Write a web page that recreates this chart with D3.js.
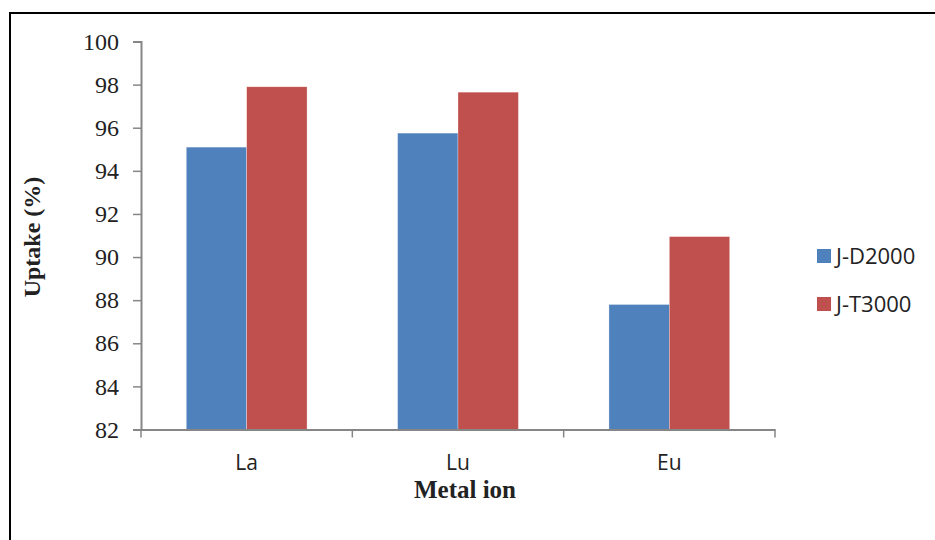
<!DOCTYPE html>
<html><head><meta charset="utf-8">
<script src="https://cdn.jsdelivr.net/npm/d3@7"></script>
<style>body{margin:0;background:#fff}</style>
</head><body>
<svg id="c" width="935" height="540"></svg>
<script>
const categories = ["La", "Lu", "Eu"];
const seriesNames = ["J-D2000", "J-T3000"];
const jd2000 = [95.1, 95.75, 87.8];
const jt3000 = [97.9, 97.65, 90.95];
const yTicks = [82, 84, 86, 88, 90, 92, 94, 96, 98, 100];
const colors = ["#4F81BD", "#C0504D"];

(function(){
const svg = d3.select("#c");
svg.append("rect").attr("x", 10).attr("y", 13).attr("width", 940).attr("height", 540)
  .attr("fill", "none").attr("stroke", "#000").attr("stroke-width", 2);

const pL = 141, pR = 775, pT = 41.5, pB = 429.5;
const x = d3.scaleBand().domain(categories).range([pL, pR]).paddingInner(0).paddingOuter(0);
const y = d3.scaleLinear().domain([82, 100]).range([pB, pT]);
const xs = d3.scaleBand().domain(seriesNames).range([0, x.bandwidth()]).paddingInner(0).paddingOuter(0.75);

const data = [jd2000, jt3000];
const g = svg.append("g");
categories.forEach((c, i) => {
  seriesNames.forEach((s, j) => {
    g.append("rect")
      .attr("x", x(c) + xs(s)).attr("width", xs.bandwidth())
      .attr("y", y(data[j][i])).attr("height", y(82) - y(data[j][i]))
      .attr("fill", colors[j]).attr("stroke", "rgba(255,255,255,0.5)").attr("stroke-width", 0.6);
  });
});

const axisColor = "#868686";
const yAxis = svg.append("g").attr("transform", `translate(${pL},0)`)
  .call(d3.axisLeft(y).tickValues(yTicks).tickSize(8).tickPadding(14));
yAxis.select(".domain").attr("stroke", axisColor).attr("stroke-width", 2);
yAxis.selectAll(".tick line").attr("stroke", axisColor).attr("stroke-width", 1.5);
yAxis.selectAll("text").attr("font-family", "Liberation Serif").attr("font-size", 24).attr("fill", "#222");

const xAxis = svg.append("g").attr("transform", `translate(0,${pB})`)
  .call(d3.axisBottom(x).tickSize(0).tickPadding(26));
xAxis.select(".domain").attr("stroke", axisColor).attr("stroke-width", 2);
xAxis.selectAll("text").attr("font-family", "Open Sans").attr("font-size", 21).attr("fill", "#222");
const bounds = [pL, ...categories.slice(1).map(c => x(c)), pR];
svg.append("g").selectAll("line").data(bounds).join("line")
  .attr("x1", d => d).attr("x2", d => d).attr("y1", pB).attr("y2", pB + 8)
  .attr("stroke", axisColor).attr("stroke-width", 1.5);

svg.append("text").attr("x", 465).attr("y", 498).attr("text-anchor", "middle")
  .attr("font-family", "Liberation Serif").attr("font-weight", "bold").attr("font-size", 25)
  .attr("fill", "#222").text("Metal ion");

svg.append("text").attr("transform", "translate(40,237) rotate(-90)").attr("text-anchor", "middle")
  .attr("font-family", "Liberation Serif").attr("font-weight", "bold").attr("font-size", 24)
  .attr("fill", "#222").text("Uptake (%)");

const leg = svg.append("g");
seriesNames.forEach((s, j) => {
  const yy = 249 + j * 48;
  leg.append("rect").attr("x", 817).attr("y", yy).attr("width", 14).attr("height", 14).attr("fill", colors[j]);
  leg.append("text").attr("x", 836).attr("y", yy + 14.5).attr("font-family", "Open Sans")
    .attr("font-size", 22).attr("fill", "#222").text(s);
});
})();
</script>
</body></html>
